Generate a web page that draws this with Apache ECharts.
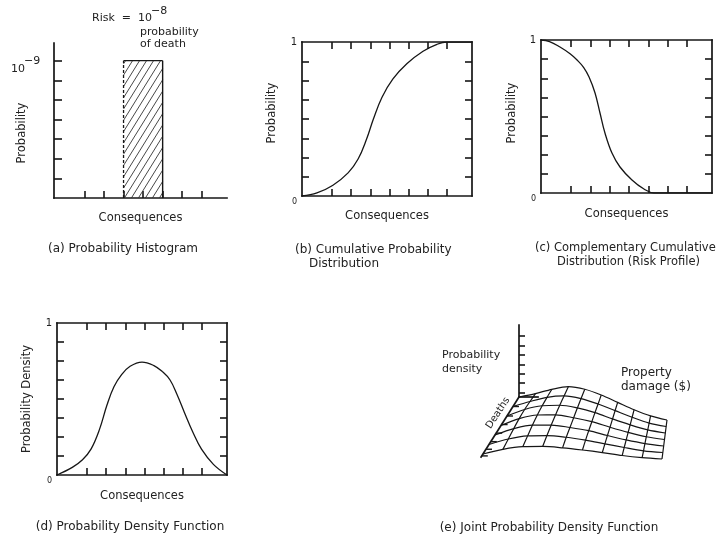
<!DOCTYPE html>
<html><head><meta charset="utf-8">
<script src="https://cdn.jsdelivr.net/npm/echarts@6/dist/echarts.min.js"></script>
<style>html,body{margin:0;padding:0;background:#fff}#c{width:717px;height:534px}</style>
</head><body><div id="c"></div>
<script>
// ---------------- data ----------------
const consequenceTicks = [0.176, 0.289, 0.402, 0.515, 0.628, 0.741, 0.853];
const probabilityTicks = [0.125, 0.25, 0.375, 0.5, 0.625, 0.75, 0.875];
const cornerLabels = [0, 1];

// (a) histogram
const histYTicks = [1, 2, 3, 4, 5, 6, 7];
const histBar = [0.402, 0.628, 7];          // [from, to, probability level]

// (b) cumulative distribution
const cdfX = [0, 0.088, 0.182, 0.271, 0.33, 0.38, 0.42, 0.47, 0.535, 0.618, 0.712, 0.794, 0.853, 1];
const cdfY = [0, 0.02, 0.07, 0.15, 0.24, 0.37, 0.50, 0.64, 0.76, 0.86, 0.94, 0.985, 1, 1];

// (c) complementary cumulative distribution
const ccdfX = [0, 0.05, 0.111, 0.17, 0.211, 0.25, 0.281, 0.316, 0.345, 0.374, 0.415, 0.462, 0.532, 0.602, 0.661, 1];
const ccdfY = [1, 0.99, 0.954, 0.91, 0.869, 0.82, 0.758, 0.654, 0.523, 0.392, 0.261, 0.170, 0.085, 0.026, 0, 0];

// (d) probability density
const pdfX = [0, 0.09, 0.15, 0.2, 0.25, 0.294, 0.335, 0.38, 0.43, 0.5, 0.57, 0.62, 0.665, 0.706, 0.75, 0.8, 0.85, 0.92, 1];
const pdfY = [0, 0.05, 0.1, 0.17, 0.3, 0.46, 0.58, 0.66, 0.715, 0.743, 0.72, 0.68, 0.625, 0.53, 0.41, 0.28, 0.17, 0.07, 0];

// (e) joint density: rows = deaths steps, columns = property damage steps
const propertySteps = [0, 1, 2, 3, 4, 5, 6, 7, 8, 9];
const deathSteps = [0, 1, 2, 3, 4, 5, 6];
const jointDensity = [
  [0, 0.15, 0.32, 0.45, 0.45, 0.37, 0.25, 0.13, 0.04, 0],
  [0, 0.18, 0.34, 0.43, 0.42, 0.34, 0.23, 0.12, 0.03, 0],
  [0, 0.21, 0.35, 0.41, 0.39, 0.32, 0.21, 0.11, 0.03, 0],
  [0, 0.21, 0.34, 0.38, 0.35, 0.29, 0.19, 0.10, 0.03, 0],
  [0, 0.19, 0.31, 0.34, 0.31, 0.26, 0.17, 0.09, 0.03, 0],
  [0, 0.16, 0.26, 0.29, 0.27, 0.22, 0.15, 0.08, 0.02, 0],
  [0, 0.13, 0.21, 0.23, 0.21, 0.17, 0.12, 0.06, 0.02, 0]
];
const densityAxisTicks = [0.5, 1.5, 2.5, 3.5, 4.5, 5.5, 6.5];
const deathsAxisTicks = [1, 2, 2.9, 3.8, 4.7, 5.5, 6.2];
const deathsAxisEnd = 6.4;

// ---------------- styling helpers ----------------
const INK = '#161616';
const TXT = '#222';
const FONT = '"DejaVu Sans", "Liberation Sans", sans-serif';

function axLine() { return { show: true, onZero: false, lineStyle: { color: INK, width: 1.7, cap: 'square' } }; }
function ticks(vals, len) {
  return { show: true, inside: true, length: len || 7, customValues: vals, lineStyle: { color: INK, width: 1.6 } };
}
function cornerLabel(margin) {
  return {
    show: true, customValues: cornerLabels, margin: margin, color: TXT, fontFamily: FONT,
    formatter: v => v === 0 ? '{z|0}' : '{o|1}',
    rich: {
      z: { fontSize: 8, padding: [11, 0, 0, 0], color: TXT, fontFamily: FONT },
      o: { fontSize: 10, color: TXT, fontFamily: FONT }
    }
  };
}
const nameStyle = { color: TXT, fontSize: 11.5, fontFamily: FONT };
function xBox(grid, pos, name, gap) {
  const a = { type: 'value', gridIndex: grid, position: pos, min: 0, max: 1,
    axisLine: axLine(), axisTick: ticks(consequenceTicks), axisLabel: { show: false }, splitLine: { show: false } };
  if (name) Object.assign(a, { name: name, nameLocation: 'middle', nameGap: gap, nameTextStyle: nameStyle });
  return a;
}
function yBox(grid, pos, name, gap, pad, labelMargin) {
  const a = { type: 'value', gridIndex: grid, position: pos, min: 0, max: 1,
    axisLine: axLine(), axisTick: ticks(probabilityTicks),
    axisLabel: labelMargin != null ? cornerLabel(labelMargin) : { show: false }, splitLine: { show: false } };
  if (name) Object.assign(a, { name: name, nameLocation: 'middle', nameGap: gap, nameRotate: 90,
    nameTextStyle: Object.assign({ padding: pad }, nameStyle) });
  return a;
}
function pairs(xs, ys) { return xs.map((x, i) => [x, ys[i]]); }

// (e) oblique sketch projection of the joint density surface (layout constants)
const E_BL = [49, 77], E_BR = [197, 100], E_FL = [13, 134], E_FR = [192, 139], E_H = 40;
function project(p, d, z) {
  const u = p / (propertySteps.length - 1), v = d / (deathSteps.length - 1);
  const x = (1 - u) * (1 - v) * E_BL[0] + u * (1 - v) * E_BR[0] + (1 - u) * v * E_FL[0] + u * v * E_FR[0];
  const y = (1 - u) * (1 - v) * E_BL[1] + u * (1 - v) * E_BR[1] + (1 - u) * v * E_FL[1] + u * v * E_FR[1];
  return [x, y - z * E_H];
}

function renderHist(params, api) {
  const x0 = api.value(0), x1 = api.value(1), h = api.value(2);
  const p0 = api.coord([x0, h]), p1 = api.coord([x1, 0]);
  const L = p0[0], T = p0[1], R = p1[0], B = p1[1];
  const H = B - T, k = 0.62, step = 7;
  const children = [];
  for (let c = L - H * k + 2; c < R; c += step) {
    const t0 = Math.max(0, (L - c) / (H * k)), t1 = Math.min(1, (R - c) / (H * k));
    if (t1 <= t0) continue;
    children.push({ type: 'line', shape: { x1: c + t0 * H * k, y1: B - t0 * H, x2: c + t1 * H * k, y2: B - t1 * H },
      style: { stroke: '#333', lineWidth: 0.9 } });
  }
  children.push({ type: 'line', shape: { x1: L, y1: B, x2: L, y2: T }, style: { stroke: INK, lineWidth: 1.3, lineDash: [3, 2] } });
  children.push({ type: 'line', shape: { x1: L, y1: T, x2: R, y2: T }, style: { stroke: INK, lineWidth: 1.4 } });
  children.push({ type: 'line', shape: { x1: R, y1: T, x2: R, y2: B }, style: { stroke: INK, lineWidth: 1.4 } });
  return { type: 'group', children: children };
}

function renderDeathsAxis(params, api) {
  const a = api.coord(project(0, 0, 0)), b = api.coord(project(0, deathsAxisEnd, 0));
  const children = [{ type: 'line', shape: { x1: a[0], y1: a[1], x2: b[0], y2: b[1] }, style: { stroke: INK, lineWidth: 1.7 } }];
  deathsAxisTicks.forEach(d => {
    const t = api.coord(project(0, d, 0));
    children.push({ type: 'line', shape: { x1: t[0], y1: t[1], x2: t[0] + 6, y2: t[1] }, style: { stroke: INK, lineWidth: 1.4 } });
  });
  return { type: 'group', children: children };
}

const curveStyle = { color: INK, width: 1.3 };
const series = [
  { type: 'custom', xAxisIndex: 0, yAxisIndex: 0, renderItem: renderHist, data: [histBar], encode: { x: [0, 1], y: 2 }, silent: true },
  { type: 'line', xAxisIndex: 1, yAxisIndex: 1, data: pairs(cdfX, cdfY), smooth: 0.4, symbol: 'none', lineStyle: curveStyle, silent: true },
  { type: 'line', xAxisIndex: 3, yAxisIndex: 3, data: pairs(ccdfX, ccdfY), smooth: 0.4, symbol: 'none', lineStyle: curveStyle, silent: true },
  { type: 'line', xAxisIndex: 5, yAxisIndex: 5, data: pairs(pdfX, pdfY), smooth: 0.4, symbol: 'none', lineStyle: curveStyle, silent: true },
  { type: 'custom', xAxisIndex: 7, yAxisIndex: 7, renderItem: renderDeathsAxis, data: [[0, 0]], silent: true, clip: false }
];
deathSteps.forEach(d => {
  series.push({ type: 'line', xAxisIndex: 7, yAxisIndex: 7, smooth: 0.3, symbol: 'none', silent: true,
    lineStyle: { color: INK, width: 1.2 },
    data: propertySteps.map(p => project(p, d, jointDensity[d][p])) });
});
propertySteps.slice(1).forEach(p => {
  series.push({ type: 'line', xAxisIndex: 7, yAxisIndex: 7, smooth: 0.3, symbol: 'none', silent: true,
    lineStyle: { color: INK, width: 1.2 },
    data: deathSteps.map(d => project(p, d, jointDensity[d][p])) });
});

function txt(x, y, text, opt) {
  return { type: 'text', x: x, y: y, silent: true,
    style: Object.assign({ text: text, fill: TXT, font: '11px ' + FONT, align: 'left', verticalAlign: 'middle' }, opt || {}) };
}
const CAP = '12px ' + FONT;

const option = {
  animation: false,
  backgroundColor: '#fff',
  grid: [
    { left: 54, top: 43, width: 173, height: 155 },
    { left: 302, top: 42, width: 170, height: 154 },
    { left: 541, top: 40, width: 171, height: 153 },
    { left: 57, top: 323, width: 170, height: 152 },
    { left: 470, top: 320, width: 210, height: 150 },
    { left: 519, top: 325, width: 19, height: 72 }
  ],
  xAxis: [
    { type: 'value', gridIndex: 0, min: 0, max: 1, axisLine: axLine(), axisTick: ticks(consequenceTicks),
      axisLabel: { show: false }, splitLine: { show: false },
      name: 'Consequences', nameLocation: 'middle', nameGap: 14, nameTextStyle: nameStyle },
    xBox(1, 'bottom', 'Consequences', 14), xBox(1, 'top'),
    xBox(2, 'bottom', 'Consequences', 15), xBox(2, 'top'),
    xBox(3, 'bottom', 'Consequences', 15), xBox(3, 'top'),
    { type: 'value', gridIndex: 4, min: 0, max: 210, show: false },
    { type: 'value', gridIndex: 5, min: 0, max: 1, axisLine: axLine(), axisTick: { show: false }, axisLabel: { show: false }, splitLine: { show: false } }
  ],
  yAxis: [
    { type: 'value', gridIndex: 0, min: 0, max: 7.9, axisLine: axLine(), axisTick: ticks(histYTicks, 8),
      axisLabel: { show: false }, splitLine: { show: false },
      name: 'Probability', nameLocation: 'middle', nameGap: 26, nameRotate: 90,
      nameTextStyle: Object.assign({ padding: [0, 25, 0, 0] }, nameStyle) },
    yBox(1, 'left', 'Probability', 24, [0, 0, 0, 12], 5), yBox(1, 'right'),
    yBox(2, 'left', 'Probability', 23, [0, 0, 0, 7], 5), yBox(2, 'right'),
    yBox(3, 'left', 'Probability Density', 24, [0, 0, 0, 0], 5), yBox(3, 'right'),
    { type: 'value', gridIndex: 4, min: 0, max: 150, inverse: true, show: false },
    { type: 'value', gridIndex: 5, min: 0, max: 7.7, axisLine: axLine(), axisTick: ticks(densityAxisTicks, 6),
      axisLabel: { show: false }, splitLine: { show: false } }
  ],
  series: series,
  graphic: [
    txt(92, 18, 'Risk  =  10'),
    txt(151, 11, '\u22128'),
    txt(140, 32, 'probability'),
    txt(140, 44, 'of death'),
    txt(11, 69, '10'),
    txt(24, 61, '\u22129'),
    txt(123, 249, '(a) Probability Histogram', { align: 'center', font: CAP }),
    txt(295, 250, '(b) Cumulative Probability', { font: CAP }),
    txt(309, 264, 'Distribution', { font: CAP }),
    txt(535, 248, '(c) Complementary Cumulative', { font: '11.5px ' + FONT }),
    txt(557, 262, 'Distribution (Risk Profile)', { font: '11.5px ' + FONT }),
    txt(130, 527, '(d) Probability Density Function', { align: 'center', font: CAP }),
    txt(442, 355, 'Probability'),
    txt(442, 369, 'density'),
    txt(621, 373, 'Property', { font: CAP }),
    txt(621, 387, 'damage ($)', { font: CAP }),
    Object.assign(txt(498, 413, 'Deaths', { align: 'center', font: '10px ' + FONT }), { rotation: 0.99 }),
    txt(549, 528, '(e) Joint Probability Density Function', { align: 'center', font: CAP })
  ]
};

const chart = echarts.init(document.getElementById('c'), null, { renderer: 'canvas' });
chart.setOption(option);
</script>
</body></html>
